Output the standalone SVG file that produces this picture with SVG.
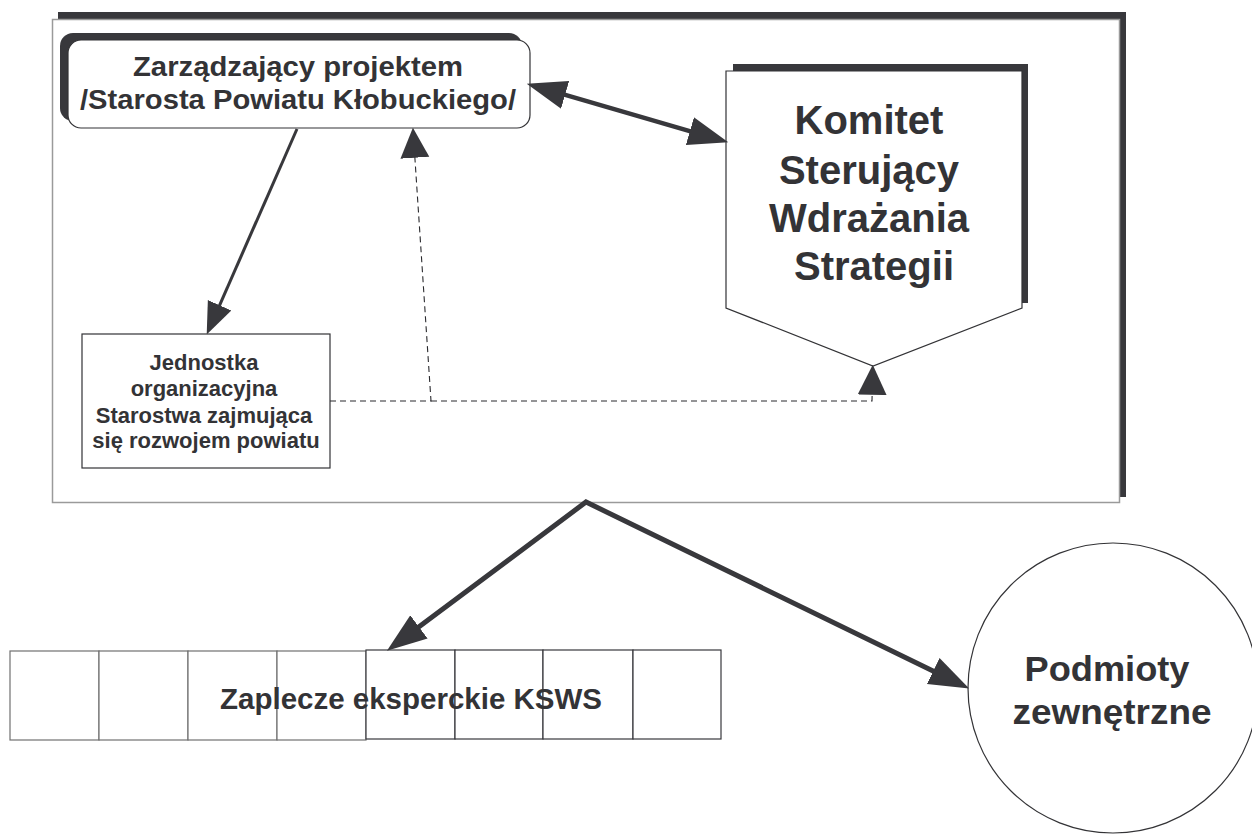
<svg xmlns="http://www.w3.org/2000/svg" width="1252" height="835" viewBox="0 0 1252 835">
  <style>
    .shadow { fill: #38383c; }
    .txt { font-family: "Liberation Sans", Arial, sans-serif; font-weight: bold; fill: #333336; text-anchor: middle; }
    .box { fill: #ffffff; stroke: #333336; stroke-width: 1.2; }
    .cellL { fill: #ffffff; stroke: #707070; stroke-width: 1.2; }
    .cellR { fill: #ffffff; stroke: #38383c; stroke-width: 1.2; }
    .thick { fill: none; stroke: #38383c; stroke-linejoin: miter; }
    .dash { fill: none; stroke: #2a2a2e; stroke-width: 1.1; stroke-dasharray: 6 4; }
  </style>
  <defs>
    <marker id="ahBig" markerUnits="userSpaceOnUse" markerWidth="40" markerHeight="30" viewBox="0 0 36 26" refX="24" refY="13" orient="auto-start-reverse">
      <path d="M0,0 L36,13 L0,26 z" fill="#38383c"/>
    </marker>
    <marker id="ahMed" markerUnits="userSpaceOnUse" markerWidth="32" markerHeight="28" viewBox="0 0 30 24" refX="20" refY="12" orient="auto-start-reverse">
      <path d="M0,0 L30,12 L0,24 z" fill="#38383c"/>
    </marker>
    <marker id="ahDash" markerUnits="userSpaceOnUse" markerWidth="30" markerHeight="30" viewBox="0 0 27 26" refX="16" refY="13" orient="auto">
      <path d="M0,0 L27,13 L0,26 z" fill="#38383c"/>
    </marker>
  </defs>
  <rect width="1252" height="835" fill="#ffffff"/>

  <g id="frame">
    <rect class="shadow" x="58" y="12" width="1068" height="485"/>
    <rect x="52.5" y="19.5" width="1067" height="483" fill="#ffffff" stroke="#9a9a9a" stroke-width="1.5"/>
  </g>

  <g id="manager">
    <rect class="shadow" x="60" y="33" width="462" height="88" rx="13"/>
    <rect class="box" x="68" y="40" width="462" height="88" rx="13"/>
    <text class="txt" x="298" y="76" font-size="27" textLength="330" lengthAdjust="spacingAndGlyphs">Zarządzający projektem</text>
    <text class="txt" x="298" y="109" font-size="27" textLength="436" lengthAdjust="spacingAndGlyphs">/Starosta Powiatu Kłobuckiego/</text>
  </g>

  <g id="komitet">
    <rect class="shadow" x="733" y="64" width="295" height="239"/>
    <polygon class="box" points="726,71 1022,71 1022,308 873,366 726,308"/>
    <text class="txt" x="869" y="134" font-size="40">Komitet</text>
    <text class="txt" x="869" y="184" font-size="40">Sterujący</text>
    <text class="txt" x="869" y="232" font-size="40">Wdrażania</text>
    <text class="txt" x="874" y="280" font-size="40">Strategii</text>
  </g>

  <g id="jednostka">
    <rect class="box" x="82" y="334" width="248" height="134"/>
    <text class="txt" x="204" y="370" font-size="22">Jednostka</text>
    <text class="txt" x="204" y="396" font-size="22">organizacyjna</text>
    <text class="txt" x="204" y="423" font-size="22">Starostwa zajmująca</text>
    <text class="txt" x="206" y="448" font-size="22">się rozwojem powiatu</text>
  </g>

  <g id="zaplecze">
    <rect class="cellL" x="10" y="651" width="89" height="89"/>
    <rect class="cellL" x="99" y="651" width="89" height="89"/>
    <rect class="cellL" x="188" y="651" width="89" height="89"/>
    <rect class="cellL" x="277" y="651" width="89" height="89"/>
    <rect class="cellR" x="366" y="650" width="89" height="89"/>
    <rect class="cellR" x="455" y="650" width="88" height="89"/>
    <rect class="cellR" x="543" y="650" width="90" height="89"/>
    <rect class="cellR" x="633" y="650" width="88" height="89"/>
    <text class="txt" x="411" y="709" font-size="29" textLength="382" lengthAdjust="spacingAndGlyphs">Zaplecze eksperckie KSWS</text>
  </g>

  <g id="podmioty">
    <circle cx="1113" cy="688" r="145" fill="#ffffff" stroke="#333336" stroke-width="1.2"/>
    <text class="txt" x="1107" y="681" font-size="35" textLength="165" lengthAdjust="spacingAndGlyphs">Podmioty</text>
    <text class="txt" x="1112" y="724" font-size="35" textLength="199" lengthAdjust="spacingAndGlyphs">zewnętrzne</text>
  </g>

  <g id="connectors">
    <path class="thick" stroke-width="4.5" d="M539.5,87.4 L715.5,138.6" marker-start="url(#ahBig)" marker-end="url(#ahBig)"/>
    <path class="thick" stroke-width="3" d="M297,129 L211,324.8" marker-end="url(#ahMed)"/>
    <path class="dash" d="M330,401 L431,401 L413.7,140" marker-end="url(#ahDash)"/>
    <path class="dash" d="M431,401 L872,401 L872.5,377" marker-end="url(#ahDash)"/>
    <path class="thick" stroke-width="5" d="M397.6,642.8 L586,502 L957.2,682.7" marker-start="url(#ahBig)" marker-end="url(#ahBig)"/>
  </g>
</svg>
